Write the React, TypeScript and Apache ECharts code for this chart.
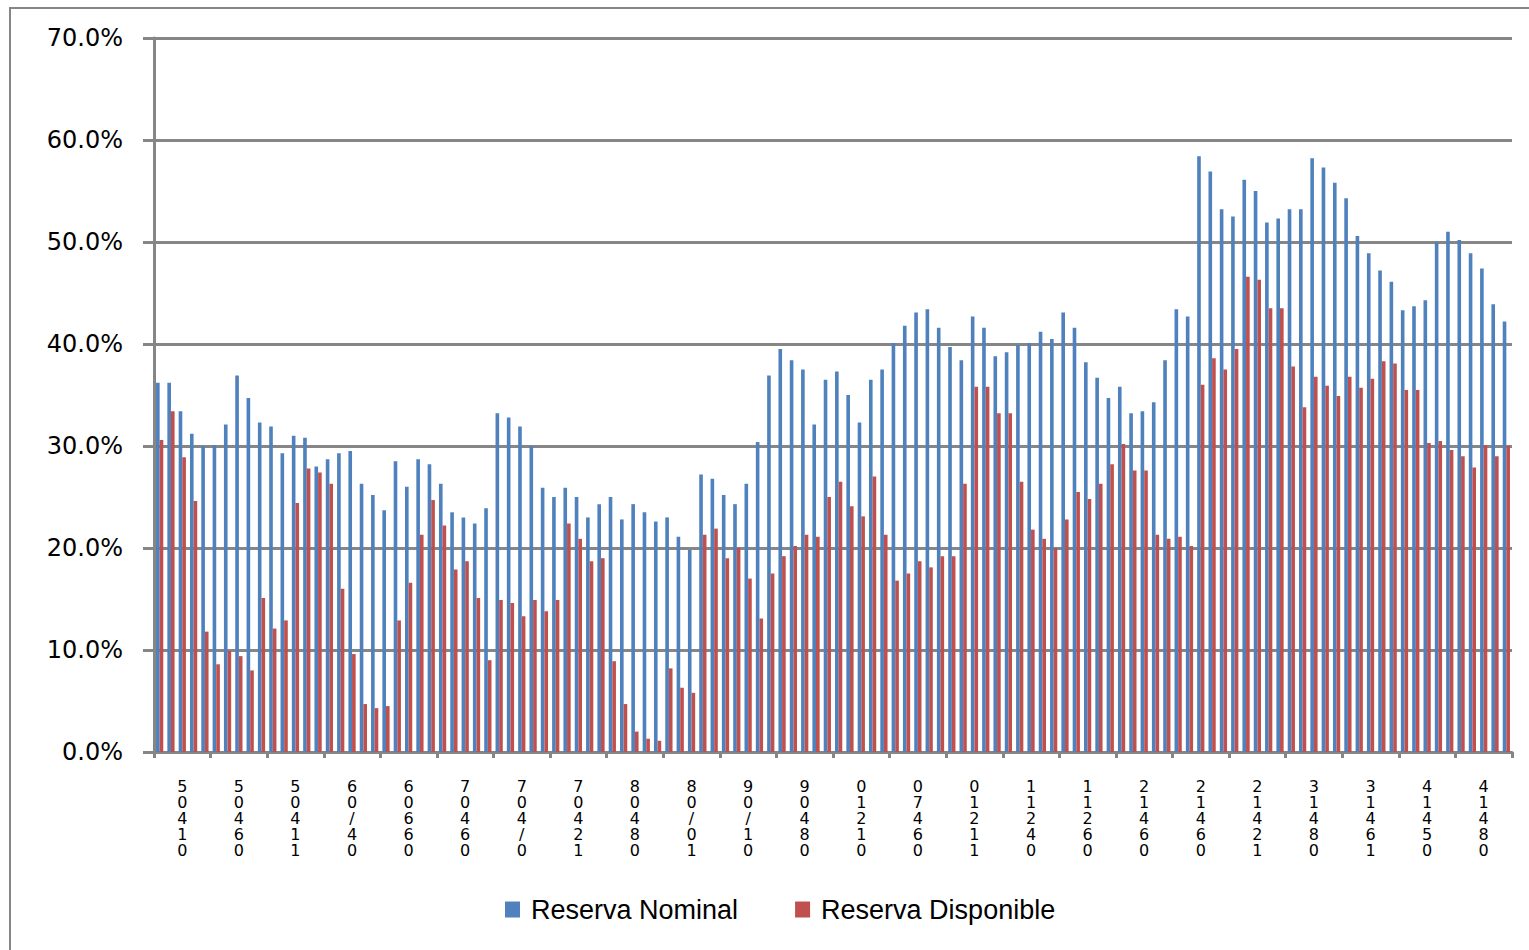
import React, { useEffect, useRef } from "react";
import * as echarts from "echarts";

const tickLabels = [
  "5\n0\n4\n1\n0", "5\n0\n4\n6\n0", "5\n0\n4\n1\n1", "6\n0\n/\n4\n0",
  "6\n0\n6\n6\n0", "7\n0\n4\n6\n0", "7\n0\n4\n/\n0", "7\n0\n4\n2\n1",
  "8\n0\n4\n8\n0", "8\n0\n/\n0\n1", "9\n0\n/\n1\n0", "9\n0\n4\n8\n0",
  "0\n1\n2\n1\n0", "0\n7\n4\n6\n0", "0\n1\n2\n1\n1", "1\n1\n2\n4\n0",
  "1\n1\n2\n6\n0", "2\n1\n4\n6\n0", "2\n1\n4\n6\n0", "2\n1\n4\n2\n1",
  "3\n1\n4\n8\n0", "3\n1\n4\n6\n1", "4\n1\n4\n5\n0", "4\n1\n4\n8\n0",
];

const categories = Array.from({ length: 120 }, (_, i) => `Periodo ${i + 1}`);

const reservaNominal = [
  36.2, 36.2, 33.4, 31.2, 30.0, 30.1, 32.1, 36.9, 34.7, 32.3,
  31.9, 29.3, 31.0, 30.8, 28.0, 28.7, 29.3, 29.5, 26.3, 25.2,
  23.7, 28.5, 26.0, 28.7, 28.2, 26.3, 23.5, 23.0, 22.4, 23.9,
  33.2, 32.8, 31.9, 30.0, 25.9, 25.0, 25.9, 25.0, 23.0, 24.3,
  25.0, 22.8, 24.3, 23.5, 22.6, 23.0, 21.1, 19.8, 27.2, 26.8,
  25.2, 24.3, 26.3, 30.4, 36.9, 39.5, 38.4, 37.5, 32.1, 36.5,
  37.3, 35.0, 32.3, 36.5, 37.5, 40.1, 41.8, 43.1, 43.4, 41.6,
  39.7, 38.4, 42.7, 41.6, 38.8, 39.2, 39.9, 40.1, 41.2, 40.5,
  43.1, 41.6, 38.2, 36.7, 34.7, 35.8, 33.2, 33.4, 34.3, 38.4,
  43.4, 42.7, 58.4, 56.9, 53.2, 52.5, 56.1, 55.0, 51.9, 52.3,
  53.2, 53.2, 58.2, 57.3, 55.8, 54.3, 50.6, 48.9, 47.2, 46.1,
  43.3, 43.7, 44.3, 50.0, 51.0, 50.2, 48.9, 47.4, 43.9, 42.2,
];

const reservaDisponible = [
  30.6, 33.4, 28.9, 24.6, 11.8, 8.6, 9.9, 9.4, 8.0, 15.1,
  12.1, 12.9, 24.4, 27.8, 27.4, 26.3, 16.0, 9.6, 4.7, 4.3,
  4.5, 12.9, 16.6, 21.3, 24.7, 22.2, 17.9, 18.7, 15.1, 9.0,
  14.9, 14.6, 13.3, 14.9, 13.8, 14.9, 22.4, 20.9, 18.7, 19.0,
  8.9, 4.7, 2.0, 1.3, 1.1, 8.2, 6.3, 5.8, 21.3, 21.9,
  19.0, 20.0, 17.0, 13.1, 17.5, 19.2, 20.2, 21.3, 21.1, 25.0,
  26.5, 24.1, 23.1, 27.0, 21.3, 16.8, 17.5, 18.7, 18.1, 19.2,
  19.2, 26.3, 35.8, 35.8, 33.2, 33.2, 26.5, 21.8, 20.9, 20.0,
  22.8, 25.5, 24.8, 26.3, 28.2, 30.2, 27.6, 27.6, 21.3, 20.9,
  21.1, 20.2, 36.0, 38.6, 37.5, 39.5, 46.6, 46.3, 43.5, 43.5,
  37.8, 33.8, 36.8, 35.9, 34.9, 36.8, 35.7, 36.6, 38.3, 38.1,
  35.5, 35.5, 30.3, 30.5, 29.6, 29.0, 27.9, 30.1, 29.0, 30.0,
];

const seriesNames = ["Reserva Nominal", "Reserva Disponible"];
const GRAY = "#868686";

export default function App() {
  const ref = useRef<HTMLDivElement>(null);

  useEffect(() => {
    if (!ref.current) return;
    const chart = echarts.init(ref.current, null, { renderer: "svg" });
    chart.setOption({
      animation: false,
      backgroundColor: "#ffffff",
      graphic: [
        {
          type: "rect",
          shape: { x: 10, y: 8, width: 1540, height: 960 },
          style: { fill: "none", stroke: GRAY, lineWidth: 2 },
          silent: true,
          z: 0,
        },
      ],
      grid: { left: 154, right: 17, top: 38, bottom: 198, containLabel: false },
      legend: {
        left: 505,
        top: 896,
        padding: 0,
        itemWidth: 15,
        itemHeight: 16,
        itemGap: 57,
        icon: "rect",
        textStyle: {
          fontFamily: "Liberation Sans",
          fontSize: 27,
          color: "#000",
          padding: [0, 0, 0, 6],
        },
        data: seriesNames,
      },
      xAxis: {
        type: "category",
        data: categories,
        boundaryGap: true,
        axisLine: { show: true, lineStyle: { color: GRAY, width: 3 } },
        axisTick: {
          show: true,
          length: 6,
          interval: (i: number) => i % 5 === 0,
          lineStyle: { color: GRAY, width: 3 },
        },
        axisLabel: {
          interval: (i: number) => i % 5 === 2,
          formatter: (_v: string, i: number) =>
            i % 5 === 2 ? tickLabels[Math.floor(i / 5)] : "",
          fontFamily: "DejaVu Sans",
          fontSize: 16,
          lineHeight: 16,
          color: "#000",
          margin: 26,
          hideOverlap: false,
        },
        splitLine: { show: false },
      },
      yAxis: {
        type: "value",
        min: 0,
        max: 70,
        interval: 10,
        axisLine: { show: true, lineStyle: { color: GRAY, width: 3 } },
        axisTick: { show: true, length: 11, lineStyle: { color: GRAY, width: 3 } },
        axisLabel: {
          formatter: (v: number) => v.toFixed(1) + "%",
          fontFamily: "DejaVu Sans",
          fontSize: 24,
          color: "#000",
          margin: 31,
        },
        splitLine: { show: true, lineStyle: { color: GRAY, width: 3 } },
      },
      series: [
        {
          name: seriesNames[0],
          type: "bar",
          data: reservaNominal,
          barGap: "0%",
          barCategoryGap: "36%",
          itemStyle: { color: "#4F81BD" },
        },
        {
          name: seriesNames[1],
          type: "bar",
          data: reservaDisponible,
          barGap: "0%",
          barCategoryGap: "36%",
          itemStyle: { color: "#C0504D" },
        },
      ],
    });
    return () => chart.dispose();
  }, []);

  return (
    <div
      ref={ref}
      style={{ position: "fixed", left: 0, top: 0, width: 1529, height: 950 }}
    />
  );
}
